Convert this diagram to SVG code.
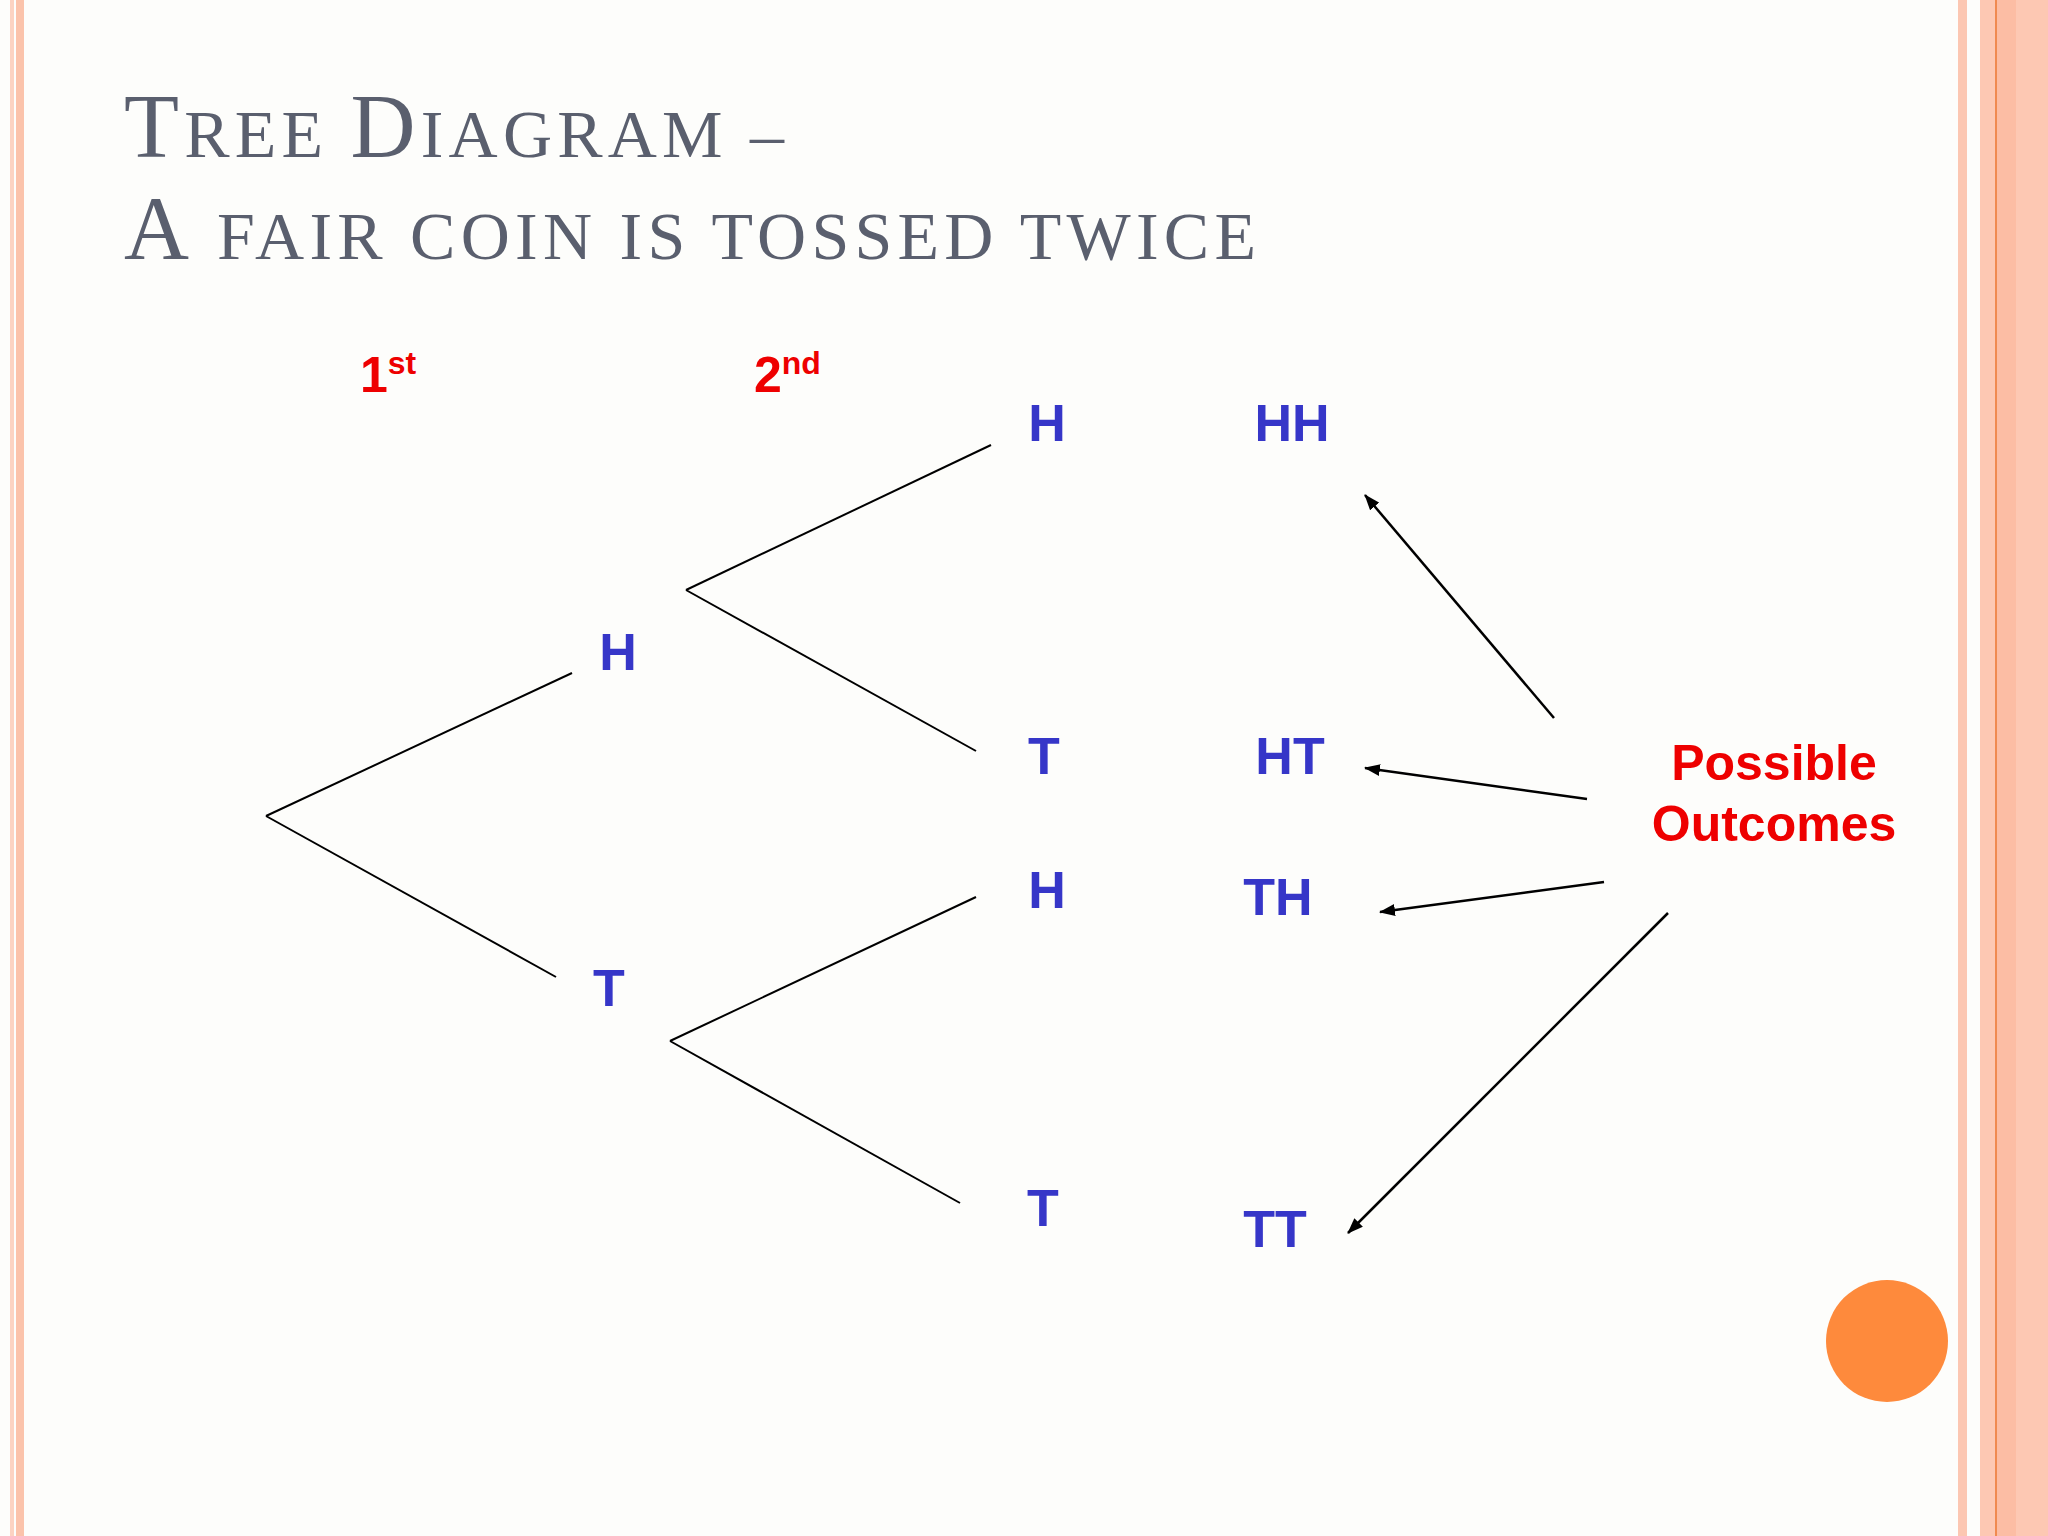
<svg xmlns="http://www.w3.org/2000/svg" width="2048" height="1536" viewBox="0 0 2048 1536">
<defs>
<style>
.t{font-family:"Liberation Serif",serif;fill:#5a5f6e}
.n{font-family:"Liberation Sans",Arial,sans-serif;font-weight:bold;font-size:52px;fill:#3636c8;text-anchor:middle}
.r{font-family:"Liberation Sans",Arial,sans-serif;font-weight:bold;fill:#ee0000}
.b{stroke:#000;stroke-width:2;fill:none}
.a{stroke:#000;stroke-width:2.5;fill:none;marker-end:url(#ah)}
</style>
<marker id="ah" markerWidth="16" markerHeight="12" refX="15" refY="6" orient="auto" markerUnits="userSpaceOnUse" viewBox="0 0 16 12"><path d="M0,0L16,6L0,12z" fill="#000"/></marker>
</defs>
<rect width="2048" height="1536" fill="#fdfdfb"/>
<rect x="10" y="0" width="4" height="1536" fill="#fcd3c2"/>
<rect x="16" y="0" width="8" height="1536" fill="#fbc3ab"/>
<rect x="1958" y="0" width="9" height="1536" fill="#fcc7b2"/>
<rect x="1980" y="0" width="68" height="1536" fill="#fdc8b3"/>
<rect x="1996" y="0" width="20" height="1536" fill="#fcbda4"/>
<rect x="1995" y="0" width="2" height="1536" fill="#f08a50"/>
<g id="title">
<text class="t" x="124" y="157" font-size="90" textLength="660" lengthAdjust="spacing">T<tspan font-size="68">REE </tspan>D<tspan font-size="68">IAGRAM –</tspan></text>
<text class="t" x="124" y="259" font-size="90" textLength="1132" lengthAdjust="spacing">A <tspan font-size="68">FAIR COIN IS TOSSED TWICE</tspan></text>
</g>
<g id="headers">
<text class="r" x="360" y="392" font-size="50">1<tspan font-size="32" dy="-18">st</tspan></text>
<text class="r" x="754" y="392" font-size="50">2<tspan font-size="32" dy="-18">nd</tspan></text>
</g>
<g id="connectors">
<line class="b" x1="266" y1="816" x2="572" y2="673"/>
<line class="b" x1="266" y1="816" x2="556" y2="977"/>
<line class="b" x1="686" y1="590" x2="991" y2="445"/>
<line class="b" x1="686" y1="590" x2="976" y2="751"/>
<line class="b" x1="670" y1="1041" x2="976" y2="897"/>
<line class="b" x1="670" y1="1041" x2="960" y2="1203"/>
<line class="a" x1="1554" y1="718" x2="1365" y2="495"/>
<line class="a" x1="1587" y1="799" x2="1365" y2="768"/>
<line class="a" x1="1604" y1="882" x2="1380" y2="912"/>
<line class="a" x1="1668" y1="913" x2="1348" y2="1233"/>
</g>
<g id="n1H"><text class="n" x="618" y="670">H</text></g>
<g id="n1T"><text class="n" x="609" y="1006">T</text></g>
<g id="n2HH"><text class="n" x="1047" y="441">H</text></g>
<g id="n2HT"><text class="n" x="1044" y="774">T</text></g>
<g id="n2TH"><text class="n" x="1047" y="908">H</text></g>
<g id="n2TT"><text class="n" x="1043" y="1226">T</text></g>
<g id="oHH"><text class="n" x="1292" y="441">HH</text></g>
<g id="oHT"><text class="n" x="1290" y="774">HT</text></g>
<g id="oTH"><text class="n" x="1278" y="915">TH</text></g>
<g id="oTT"><text class="n" x="1275" y="1247">TT</text></g>
<g id="outcomes">
<text class="r" x="1774" y="780" font-size="50" text-anchor="middle">Possible</text>
<text class="r" x="1774" y="841" font-size="50" text-anchor="middle">Outcomes</text>
</g>
<circle cx="1887" cy="1341" r="61" fill="#fe8a3c"/>
</svg>
